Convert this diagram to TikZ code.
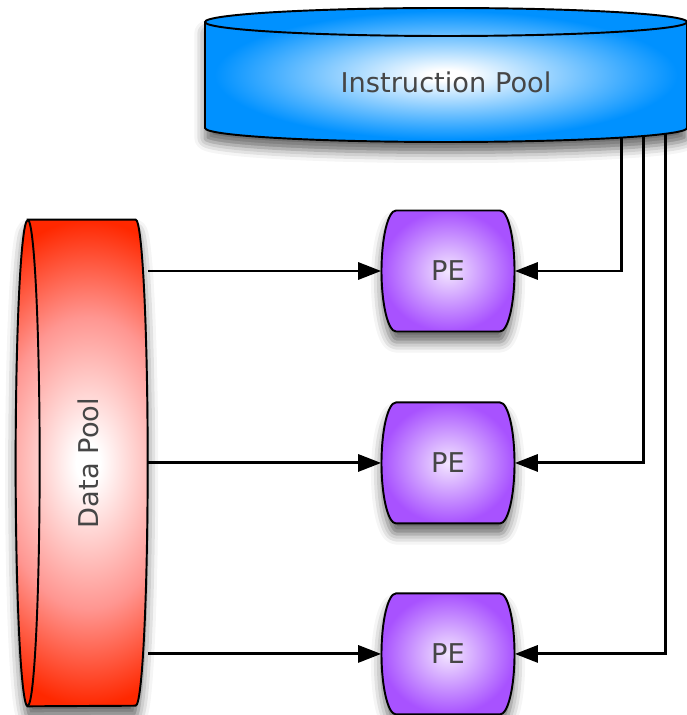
\documentclass[tikz,border=0pt]{standalone}
\usepackage{fontspec}
\setmainfont{DejaVu Sans}
\usetikzlibrary{arrows.meta,backgrounds,shadows.blur}

\definecolor{ipblue}{RGB}{0,145,255}
\definecolor{dpred}{RGB}{255,40,0}
\definecolor{dppink}{RGB}{255,150,145}
\definecolor{pepurple}{RGB}{168,82,255}
\definecolor{pelight}{RGB}{243,230,255}
\definecolor{labelgrey}{RGB}{70,70,70}

\pgfdeclareradialshading{ipglow}{\pgfpointorigin}{color(0bp)=(white); color(2bp)=(white); color(24bp)=(ipblue); color(50bp)=(ipblue)}
\pgfdeclareradialshading{dpglow}{\pgfpointorigin}{color(0bp)=(white); color(2bp)=(white); color(15bp)=(dppink); color(25bp)=(dpred); color(50bp)=(dpred)}
\pgfdeclareradialshading{peglow}{\pgfpointorigin}{color(0bp)=(pelight); color(25bp)=(pepurple); color(50bp)=(pepurple)}

\begin{document}
\begin{tikzpicture}[x=0.02cm, y=0.02cm,
					poolnode/.style={inner sep=0pt,
					text=labelgrey,
					font=\fontsize{15.5}{18}\selectfont},
					penode/.style={inner sep=0pt,
					minimum width=2.66cm,
					minimum height=2.42cm,
					text=labelgrey,
					font=\fontsize{15.5}{18}\selectfont},
					outline/.style={draw=black, line width=1.1pt},
					softshadow/.style={blur shadow={shadow xshift=0pt,
					shadow yshift=-6pt,
					shadow blur radius=6pt,
					shadow opacity=60}},
					arrowline/.style={line width=1.7pt,
					-{Triangle[length=0.46cm, width=0.34cm]}}
					]

\useasboundingbox (0,-715) rectangle (686,0);

%pool nodes
\node[poolnode, minimum width=9.64cm, minimum height=2.4cm] (ip) at (446,-82) {Instruction Pool};
\node[poolnode, minimum width=2.4cm, minimum height=9.72cm] (dp) at (88,-463) {\rotatebox{90}{Data Pool}};

%PE nodes
\node[penode] (pe1) at (448,-271) {PE};
\node[penode] (pe2) [below of = pe1, node distance=3.84cm] {PE};
\node[penode] (pe3) [below of = pe2, node distance=3.82cm] {PE};

% shapes behind the labels
\begin{scope}[on background layer]
\shadedraw[outline, softshadow, shading=ipglow] ([shift={(-241,60)}]ip.center) -- ++(0,-106)
	arc[start angle=180, end angle=360, x radius=241, y radius=14] -- ++(0,106)
	arc[start angle=0, end angle=180, x radius=241, y radius=14] -- cycle;
\draw[outline] ([shift={(-241,60)}]ip.center) arc[start angle=180, end angle=360, x radius=241, y radius=14];

% data pool: shadow, then a wide glow clipped to the body, then the outline
\path[softshadow] (dp.north west) -- ++(108,0)
	arc[start angle=90, end angle=-90, x radius=12, y radius=243] -- (dp.south west)
	arc[start angle=270, end angle=90, x radius=12, y radius=243] -- cycle;
\begin{scope}
\clip (dp.north west) -- ++(108,0)
	arc[start angle=90, end angle=-90, x radius=12, y radius=243] -- (dp.south west)
	arc[start angle=270, end angle=90, x radius=12, y radius=243] -- cycle;
\shade[shading=dpglow] ([shift={(-150,-243)}]dp.center) rectangle ([shift={(150,243)}]dp.center);
\end{scope}
\draw[outline] (dp.north west) -- ++(108,0)
	arc[start angle=90, end angle=-90, x radius=12, y radius=243] -- (dp.south west)
	arc[start angle=270, end angle=90, x radius=12, y radius=243] -- cycle;
\draw[outline] (dp.north west) arc[start angle=90, end angle=-90, x radius=12, y radius=243];

\foreach \p in {pe1,pe2,pe3}
	\shadedraw[outline, softshadow, shading=peglow] ([shift={(-52,60.5)}]\p.center) -- ++(104,0)
		arc[start angle=90, end angle=-90, x radius=14.5, y radius=60.5] -- ++(-104,0)
		arc[start angle=270, end angle=90, x radius=14.5, y radius=60.5] -- cycle;
\end{scope}

% feed points under the instruction pool
\coordinate (ip1) at ([shift={(175,-56)}]ip.center);
\coordinate (ip2) at ([shift={(197,-54)}]ip.center);
\coordinate (ip3) at ([shift={(219,-52)}]ip.center);

% Arrows
\foreach \i in {1,2,3}{
	\draw[arrowline] (dp.east |- pe\i.west) -- (pe\i.west);
	\draw[arrowline] (ip\i) |- (pe\i.east);
}

\end{tikzpicture}
\end{document}
